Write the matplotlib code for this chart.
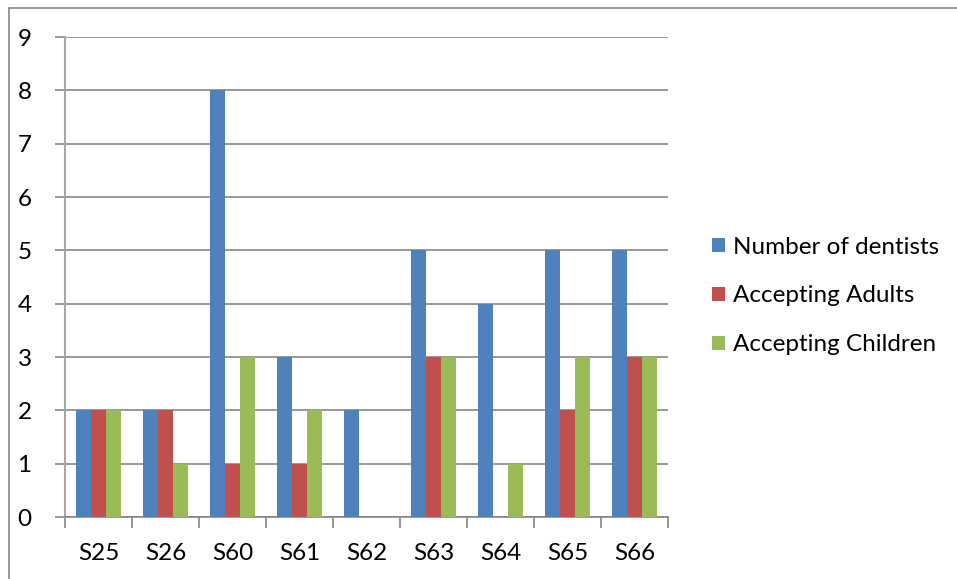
import matplotlib
matplotlib.use("Agg")
import matplotlib.pyplot as plt
from matplotlib.lines import Line2D
import numpy as np

plt.rcParams['font.family'] = ['Lato', 'DejaVu Sans']

categories = ["S25", "S26", "S60", "S61", "S62", "S63", "S64", "S65", "S66"]
dentists = [2, 2, 8, 3, 2, 5, 4, 5, 5]
adults = [2, 2, 1, 1, 0, 3, 0, 2, 3]
children = [2, 1, 3, 2, 0, 3, 1, 3, 3]
series_names = ["Number of dentists", "Accepting Adults", "Accepting Children"]
colors = ["#4F81BD", "#C0504D", "#9BBB59"]
yticks = list(range(0, 10))

W, H = 957, 579
FS = 17.5
fig = plt.figure(figsize=(W / 100, H / 100), dpi=100)
ax = fig.add_axes([65 / W, 1 - 517 / H, (668 - 65) / W, (517 - 37) / H])

x = np.arange(len(categories))
bw = 1 / 4.5
for i, (vals, name, c) in enumerate(zip([dentists, adults, children], series_names, colors)):
    ax.bar(x + (i - 1) * bw, vals, width=bw, color=c, label=name, zorder=3)

ax.set_xlim(-0.5, len(categories) - 0.5)
ax.set_ylim(0, 9)
ax.set_yticks(yticks)
ax.set_yticklabels([str(t) for t in yticks], fontsize=FS)
ax.set_xticks(x)
ax.set_xticklabels(categories, fontsize=FS)
ax.tick_params(axis='x', length=0, pad=19)
ax.set_xticks(np.arange(len(categories) + 1) - 0.5, minor=True)
ax.tick_params(axis='x', which='minor', length=8, color="#868686", width=1.2)
ax.tick_params(axis='y', length=7, color="#868686", width=1.2, pad=17)

ax.grid(axis='y', color="#868686", linewidth=1.2, zorder=0)
for s in ["top", "right"]:
    ax.spines[s].set_visible(False)
ax.spines["left"].set_color("#A6A6A6")
ax.spines["left"].set_linewidth(1.5)
ax.spines["bottom"].set_color("#868686")
ax.spines["bottom"].set_linewidth(1.2)

leg = fig.legend(loc="center left", bbox_to_anchor=(690 / W, 1 - 296 / H), frameon=False,
                 fontsize=FS, handlelength=0.55, handleheight=0.55, handletextpad=0.3,
                 labelspacing=1.15)

# outer chart frame
fig.add_artist(Line2D([9 / W, 9 / W], [0, 1 - 8 / H], transform=fig.transFigure,
                      color="#868686", linewidth=1.2))
fig.add_artist(Line2D([9 / W, 1], [1 - 8 / H, 1 - 8 / H], transform=fig.transFigure,
                      color="#868686", linewidth=1.2))

fig.savefig("out.png", dpi=100, facecolor="white")
